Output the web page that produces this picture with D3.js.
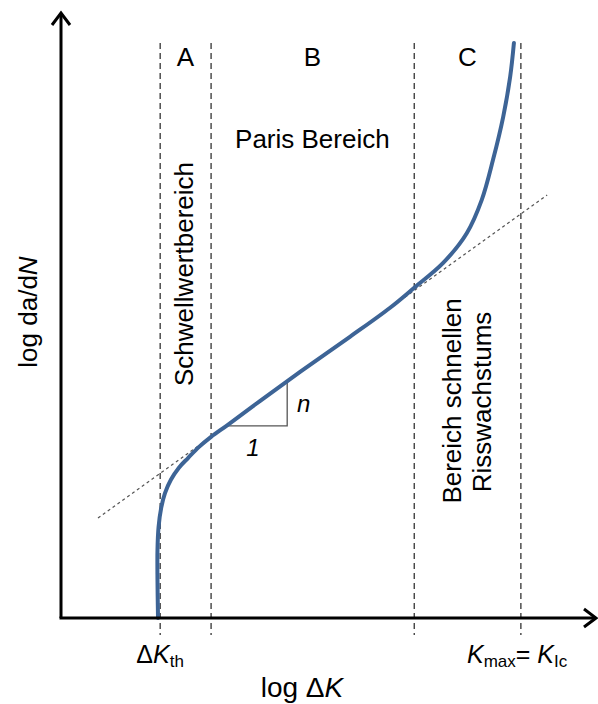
<!DOCTYPE html>
<html>
<head>
<meta charset="utf-8">
<script src="https://cdn.jsdelivr.net/npm/d3@7"></script>
<style>
  html, body { margin: 0; padding: 0; background: #fff; }
  svg { display: block; font-family: "Liberation Sans", Arial, sans-serif; }
</style>
</head>
<body>
<script>
// Schematic crack-growth curve: log da/dN over log ΔK (arbitrary log units 0..100)
const curveX = [18.1, 18.0, 18.0, 18.2, 18.7, 19.4, 20.5, 22.0, 23.7, 25.7, 28.0, 31.0, 37.1, 44.6, 53.9, 61.4, 65.9, 71.3, 75.7, 78.5, 80.6, 82.5, 83.8, 84.5];
const curveY = [0.0, 6.3, 11.2, 15.0, 18.2, 20.6, 22.8, 24.8, 26.4, 28.2, 29.9, 31.8, 35.8, 40.6, 46.4, 51.2, 54.5, 58.6, 63.5, 69.0, 75.6, 82.7, 89.3, 94.9];

// Paris-law tangent (dotted) and slope triangle
const tangentX = [6.9, 90.7];
const tangentY = [16.5, 69.8];
const triangleX = [30.8, 42.2, 42.2];
const triangleY = [31.7, 31.7, 38.8];

// Region boundaries
const boundaries = [18.5, 28.0, 65.9, 85.8];
const regionLabels = ["A", "B", "C"];
const regionCenters = [23.2, 46.9, 75.8];

const W = 598, H = 704;
const x = d3.scaleLinear().domain([0, 100]).range([61, 597]);
const y = d3.scaleLinear().domain([0, 100]).range([618, 12]);

const svg = d3.select("body").append("svg").attr("width", W).attr("height", H);

// dashed region boundaries
svg.append("g").selectAll("line").data(boundaries).join("line")
  .attr("x1", d => x(d)).attr("x2", d => x(d))
  .attr("y1", y(94.9)).attr("y2", y(-2.8))
  .attr("stroke", "#222").attr("stroke-width", 1.2)
  .attr("stroke-dasharray", "6,4");

// dotted tangent
svg.append("line")
  .attr("x1", x(tangentX[0])).attr("y1", y(tangentY[0]))
  .attr("x2", x(tangentX[1])).attr("y2", y(tangentY[1]))
  .attr("stroke", "#555").attr("stroke-width", 1.2)
  .attr("stroke-dasharray", "3,3");

// slope triangle
svg.append("path")
  .attr("d", d3.line().x((d, i) => x(triangleX[i])).y((d, i) => y(triangleY[i]))(triangleX))
  .attr("fill", "none").attr("stroke", "#555").attr("stroke-width", 1.3);

// crack growth curve
const pts = curveX.map((v, i) => [v, curveY[i]]);
svg.append("path")
  .attr("d", d3.line().x(d => x(d[0])).y(d => y(d[1])).curve(d3.curveCatmullRom.alpha(0.5))(pts))
  .attr("fill", "none").attr("stroke", "#3d6496").attr("stroke-width", 4)
  .attr("stroke-linecap", "round");

// axes with open arrow heads
const ax = svg.append("g").attr("stroke", "#000").attr("stroke-width", 3).attr("fill", "none");
ax.append("path").attr("d", `M${x(0)},${y(0)}L${x(0)},${y(100) + 1}`);
ax.append("path").attr("d", `M${x(0) - 9},${y(100) + 13}L${x(0)},${y(100) + 1}L${x(0) + 9},${y(100) + 13}`);
ax.append("path").attr("d", `M${x(0) - 1.5},${y(0)}L${x(100) - 1},${y(0)}`);
ax.append("path").attr("d", `M${x(100) - 13},${y(0) - 9}L${x(100) - 1},${y(0)}L${x(100) - 13},${y(0) + 9}`);

const txt = svg.append("g").attr("fill", "#000");

// region letters
txt.selectAll("text.reg").data(regionLabels).join("text")
  .attr("class", "reg")
  .attr("x", (d, i) => x(regionCenters[i])).attr("y", 66)
  .attr("text-anchor", "middle").attr("font-size", 26).text(d => d);

txt.append("text").attr("x", x(46.9)).attr("y", 148)
  .attr("text-anchor", "middle").attr("font-size", 26).text("Paris Bereich");

txt.append("text").attr("transform", `translate(193,274) rotate(-90)`)
  .attr("text-anchor", "middle").attr("font-size", 26).text("Schwellwertbereich");

txt.append("text").attr("transform", `translate(461,401) rotate(-90)`)
  .attr("text-anchor", "middle").attr("font-size", 26).text("Bereich schnellen");
txt.append("text").attr("transform", `translate(491,402) rotate(-90)`)
  .attr("text-anchor", "middle").attr("font-size", 26).text("Risswachstums");

// slope annotation
txt.append("text").attr("x", 253).attr("y", 456).attr("text-anchor", "middle")
  .attr("font-size", 24).attr("font-style", "italic").text("1");
txt.append("text").attr("x", 297).attr("y", 412)
  .attr("font-size", 24).attr("font-style", "italic").text("n");

// y-axis title
const yt = txt.append("text").attr("transform", `translate(37,312) rotate(-90)`)
  .attr("text-anchor", "middle").attr("font-size", 26);
yt.append("tspan").text("log da/d");
yt.append("tspan").attr("font-style", "italic").text("N");

// x-axis title
const xt = txt.append("text").attr("x", 302).attr("y", 697)
  .attr("text-anchor", "middle").attr("font-size", 28);
xt.append("tspan").text("log Δ");
xt.append("tspan").attr("font-style", "italic").text("K");

// boundary tick labels
const th = txt.append("text").attr("x", x(boundaries[0])).attr("y", 663)
  .attr("text-anchor", "middle").attr("font-size", 25);
th.append("tspan").text("Δ");
th.append("tspan").attr("font-style", "italic").text("K");
th.append("tspan").attr("font-size", 17).attr("dy", 4).text("th");

const kc = txt.append("text").attr("x", 467).attr("y", 663).attr("font-size", 25);
kc.append("tspan").attr("font-style", "italic").text("K");
kc.append("tspan").attr("font-size", 17).attr("dy", 4).text("max");
kc.append("tspan").attr("dy", -4).text("= ");
kc.append("tspan").attr("font-style", "italic").text("K");
kc.append("tspan").attr("font-size", 17).attr("dy", 4).text("Ic");
</script>
</body>
</html>
